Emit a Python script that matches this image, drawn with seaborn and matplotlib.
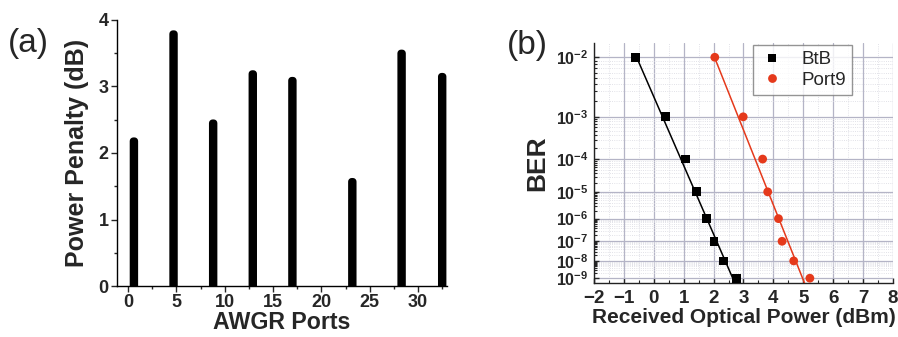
import numpy as np
import pandas as pd
import matplotlib
matplotlib.use("Agg")
import matplotlib.pyplot as plt
import seaborn as sns
from matplotlib.ticker import FixedLocator, MultipleLocator

# (a) power penalty per AWGR port
ports = [0.6, 4.7, 8.8, 12.9, 17.0, 23.2, 28.3, 32.5]
penalty = [2.18, 3.79, 2.45, 3.19, 3.09, 1.57, 3.50, 3.15]

# (b) BER curves
ber = [1e-2, 1e-3, 1e-4, 1e-5, 1e-6, 1e-7, 1e-8, 1e-9]
btb_power = [-0.62, 0.38, 1.07, 1.44, 1.77, 2.01, 2.34, 2.76]
port9_power = [2.04, 2.99, 3.64, 3.81, 4.17, 4.29, 4.68, 5.22]
# fitted lines, read as end points
btb_fit_power = [-0.62, 2.71]
btb_fit_ber = [1.1e-2, 10 ** -9.3]
port9_fit_power = [2.03, 5.04]
port9_fit_ber = [1e-2, 10 ** -9.3]

red = "#e5391b"

sns.set_style("ticks")
plt.rcParams["font.family"] = ["Liberation Sans", "DejaVu Sans"]
plt.rcParams["mathtext.fontset"] = "custom"
plt.rcParams["mathtext.rm"] = "Liberation Sans"
plt.rcParams["mathtext.bf"] = "Liberation Sans:bold"

fig = plt.figure(figsize=(8.98, 3.37), dpi=100)
ax1 = fig.add_axes([0.1303, 0.1513, 0.3675, 0.7894])
ax2 = fig.add_axes([0.6615, 0.1602, 0.3329, 0.7122])

### (a) bars
df_a = pd.DataFrame({"port": ports, "penalty": penalty})
sns.barplot(data=df_a, x="port", y="penalty", native_scale=True, orient="x",
            width=0.03, color="black", edgecolor="black", linewidth=5.2,
            errorbar=None, ax=ax1)
for p in ax1.patches:
    p.set_joinstyle("round")
    p.set_snap(False)
ax1.set_xlim(-1.15, 33.0)
ax1.set_ylim(0, 4)
ax1.xaxis.set_major_locator(MultipleLocator(5))
ax1.xaxis.set_minor_locator(MultipleLocator(2.5))
ax1.yaxis.set_major_locator(MultipleLocator(1))
ax1.yaxis.set_minor_locator(MultipleLocator(0.5))
ax1.tick_params(which="major", direction="out", length=4, width=1, labelsize=13, pad=2)
ax1.tick_params(which="minor", direction="out", length=2.5, width=1)
sns.despine(ax=ax1)
for s in ["left", "bottom"]:
    ax1.spines[s].set_linewidth(1)
    ax1.spines[s].set_color("black")
ax1.set_xlabel("AWGR Ports", fontsize=16.7, fontweight="bold", labelpad=0)
ax1.set_ylabel("Power Penalty (dB)", fontsize=18, fontweight="bold", labelpad=7)
for lbl in ax1.get_xticklabels() + ax1.get_yticklabels():
    lbl.set_fontweight("bold")

### (b) BER
def fwd(b):
    with np.errstate(all="ignore"):
        return -np.log10(-np.log10(b))

def inv(y):
    return 10 ** (-(10 ** (-y)))

df_b = pd.DataFrame({
    "power": btb_power + port9_power,
    "ber": ber + ber,
    "curve": ["BtB"] * len(btb_power) + ["Port9"] * len(port9_power),
})
df_fit = pd.DataFrame({
    "power": btb_fit_power + port9_fit_power,
    "ber": btb_fit_ber + port9_fit_ber,
    "curve": ["BtB"] * 2 + ["Port9"] * 2,
})
pal = {"BtB": "black", "Port9": red}

ax2.set_yscale("function", functions=(fwd, inv))
sns.lineplot(data=df_fit, x="power", y="ber", hue="curve", palette=pal,
             linewidth=1.1, legend=False, ax=ax2, zorder=3)
sns.scatterplot(data=df_b, x="power", y="ber", hue="curve", style="curve",
                markers={"BtB": "s", "Port9": "o"}, palette=pal,
                s=40, linewidth=0, ax=ax2, zorder=4)
ax2.set_xlim(-2, 8)
ax2.set_ylim(10 ** -9.3, 10 ** -1.815)
ax2.xaxis.set_major_locator(MultipleLocator(1))
ax2.xaxis.set_minor_locator(MultipleLocator(0.5))
ax2.yaxis.set_major_locator(FixedLocator(ber))
minor_y = [m * 10.0 ** -k for k in range(3, 10) for m in range(2, 10)]
ax2.yaxis.set_minor_locator(FixedLocator(minor_y))
ax2.set_yticklabels([r"$\mathbf{10^{-%d}}$" % k for k in range(2, 10)])
ax2.grid(which="major", color="#b4b4c6", linewidth=0.9)
ax2.grid(which="minor", color="#d8d8e0", linewidth=0.6, linestyle=":")
ax2.set_axisbelow(True)
ax2.tick_params(axis="x", which="major", direction="in", length=3.5, width=1, labelsize=13.5, pad=5)
ax2.tick_params(axis="y", which="major", direction="in", length=3.5, width=1, labelsize=11.5, pad=4)
ax2.tick_params(which="minor", direction="in", length=2, width=0.8)
sns.despine(ax=ax2)
for s in ["left", "bottom"]:
    ax2.spines[s].set_linewidth(1)
    ax2.spines[s].set_color("#222222")
for lbl in ax2.get_xticklabels():
    lbl.set_fontweight("bold")
ax2.set_xlabel("Received Optical Power (dBm)", fontsize=15, fontweight="bold", labelpad=1)
ax2.set_ylabel("BER", fontsize=19, fontweight="bold", labelpad=5)

leg = ax2.legend(loc="upper left", bbox_to_anchor=(0.532, 0.99), title=None,
                 fontsize=13.5, frameon=True, fancybox=False, borderpad=0.3,
                 handletextpad=0.9, handlelength=1.4, labelspacing=0.2,
                 borderaxespad=0)
leg.get_frame().set_edgecolor("#7a7a7a")
leg.get_frame().set_linewidth(1)

fig.text(0.009, 0.872, "(a)", fontsize=24, va="center", ha="left")
fig.text(0.5646, 0.866, "(b)", fontsize=24, va="center", ha="left")

fig.savefig("out.png", dpi=100)
